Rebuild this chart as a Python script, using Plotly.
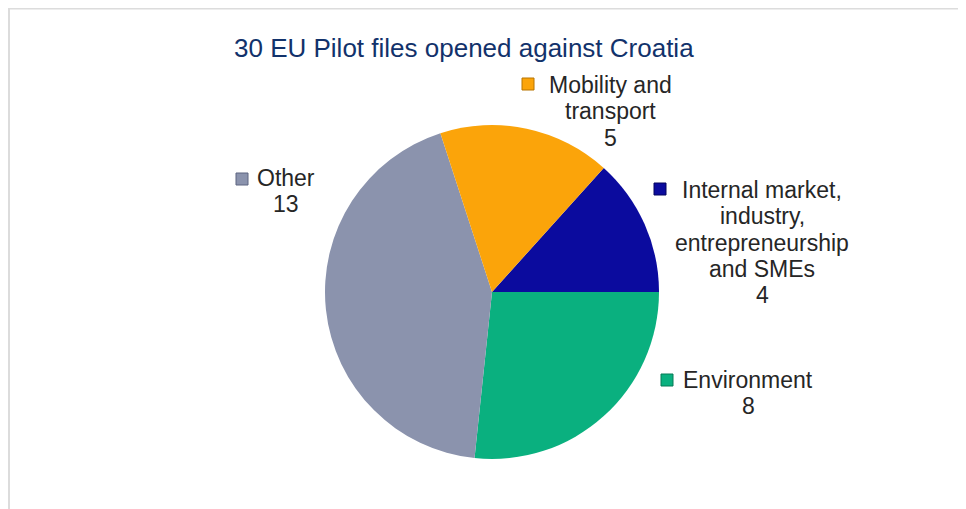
import plotly.graph_objects as go

# chart data
categories = ["Internal market, industry, entrepreneurship and SMEs",
              "Environment",
              "Other",
              "Mobility and transport"]
label_lines = [["Internal market,", "industry,", "entrepreneurship", "and SMEs"],
               ["Environment"],
               ["Other"],
               ["Mobility and", "transport"]]
files_opened = [4, 8, 13, 5]
title_text = "30 EU Pilot files opened against Croatia"

colors = ["#0b0b9e", "#0ab07f", "#8b93ad", "#fba40a"]
edge_colors = ["#05055e", "#067a57", "#5d6480", "#b87400"]

# the page body has an 8px margin, so the figure is drawn 8px in from the window edge
OFF = 8
W, H = 966 - OFF, 509 - OFF

# label placement in window pixels: (text centre x, first line centre y, marker centre x, marker centre y)
label_pos = [(762, 190, 660, 189),
             (748, 380, 667, 380),
             (286, 178, 242, 179),
             (610, 85, 528, 84)]
line_step = 26.3


def px_x(x):
    return (x - OFF) / W


def px_y(y):
    return 1 - (y - OFF) / H


fig = go.Figure()

fig.add_trace(
    go.Pie(labels = categories,
           values = files_opened,
           sort = False,
           direction = "clockwise",
           rotation = 42,
           textinfo = "none",
           hoverinfo = "label+value",
           marker = dict(colors = colors, line = dict(color = "white", width = 0)),
           domain = dict(x = [px_x(492 - 167), px_x(492 + 167)],
                         y = [px_y(292 + 167), px_y(292 - 167)]),
           showlegend = False))

annotations = [dict(text = title_text,
                    x = px_x(464), y = px_y(48),
                    xref = "paper", yref = "paper",
                    xanchor = "center", yanchor = "middle",
                    showarrow = False,
                    font = dict(family = "Liberation Sans, Arial", size = 26, color = "#12326b"))]

# outer frame (left edge as close to the window edge as the page margin allows)
shapes = [dict(type = "rect", xref = "paper", yref = "paper",
               x0 = px_x(9), x1 = 1.05, y0 = -0.05, y1 = px_y(8.5),
               line = dict(color = "#dcdcdc", width = 2), fillcolor = "rgba(0,0,0,0)")]

for lines, val, (tx, ty, mx, my), col, ecol in zip(label_lines, files_opened, label_pos, colors, edge_colors):
    for i, line in enumerate(lines + [str(val)]):
        annotations.append(dict(text = line,
                                x = px_x(tx), y = px_y(ty + i * line_step),
                                xref = "paper", yref = "paper",
                                xanchor = "center", yanchor = "middle",
                                showarrow = False,
                                font = dict(family = "Liberation Sans, Arial", size = 23, color = "#262626")))
    shapes.append(dict(type = "rect", xref = "paper", yref = "paper",
                       x0 = px_x(mx - 6), x1 = px_x(mx + 6),
                       y0 = px_y(my + 6), y1 = px_y(my - 6),
                       fillcolor = col, line = dict(color = ecol, width = 1)))

fig.update_layout(width = W,
                  height = H,
                  margin = dict(l = 0, r = 0, t = 0, b = 0),
                  paper_bgcolor = "white",
                  plot_bgcolor = "white",
                  annotations = annotations,
                  shapes = shapes)

fig.write_html("out.html")
